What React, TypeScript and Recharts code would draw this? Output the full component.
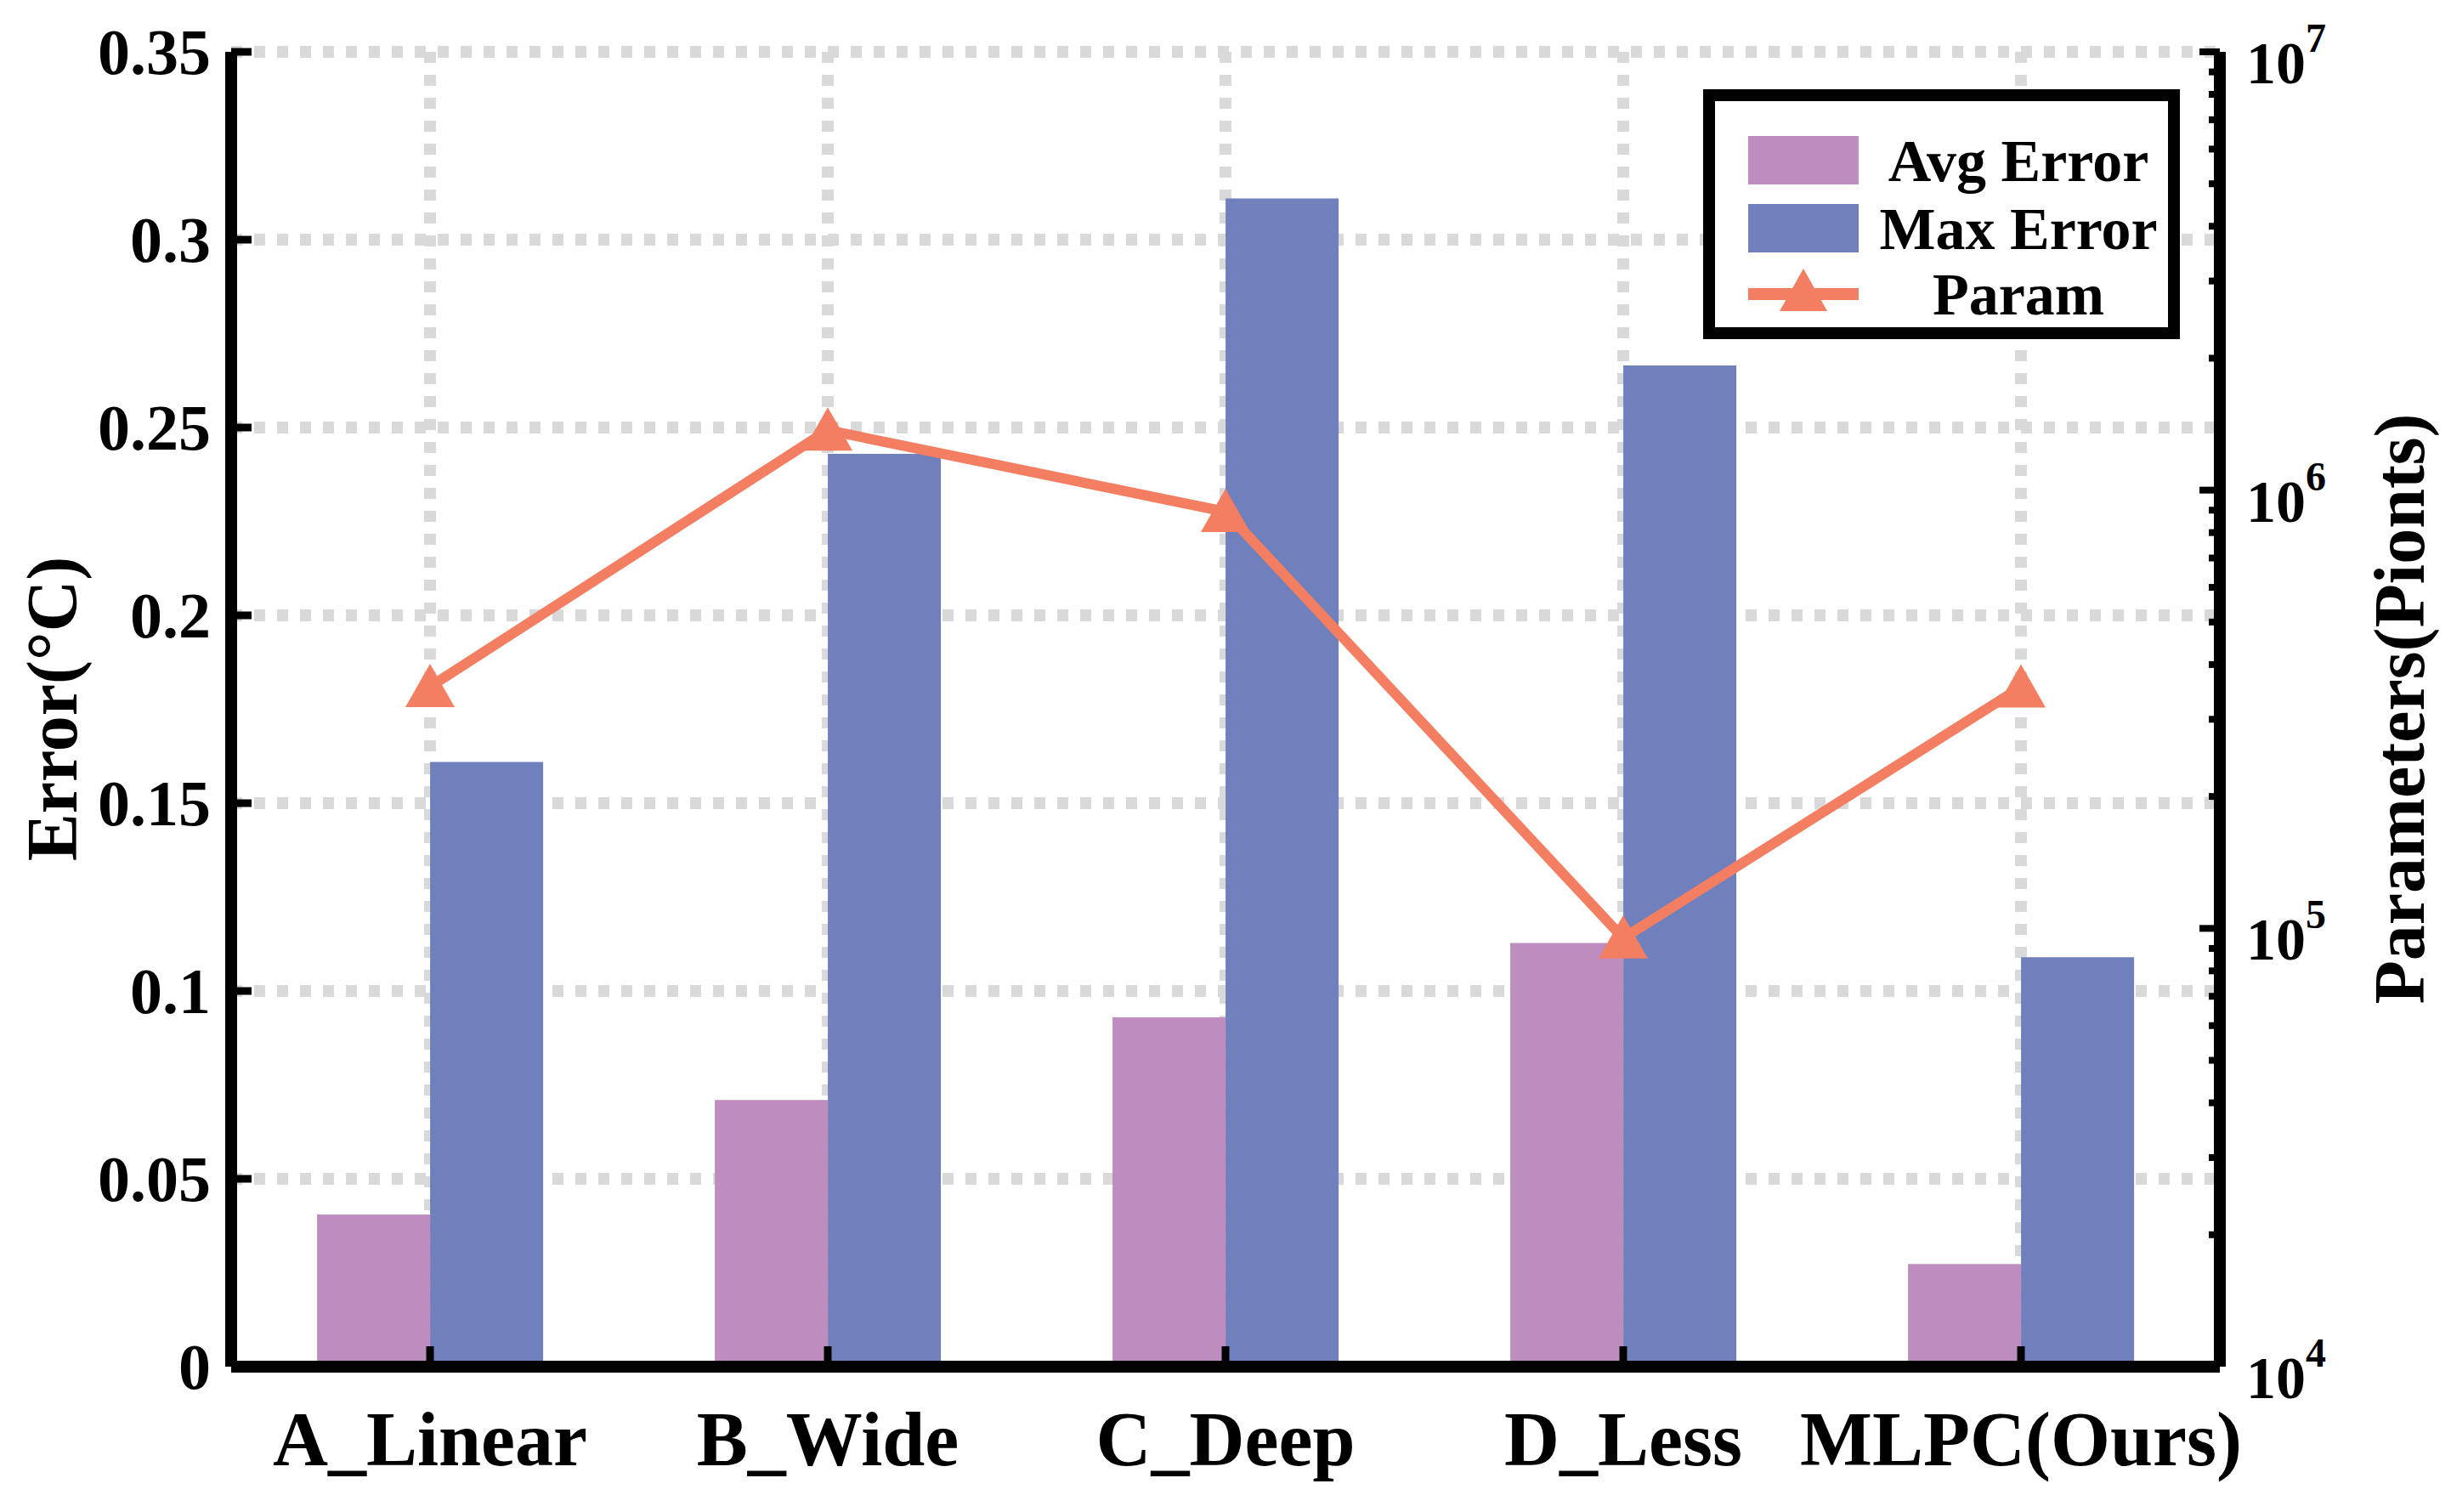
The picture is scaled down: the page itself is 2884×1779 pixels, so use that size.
import React from 'react';
import { ComposedChart, Bar, Line, XAxis, YAxis, CartesianGrid, Legend } from 'recharts';

const categories = ['A_Linear', 'B_Wide', 'C_Deep', 'D_Less', 'MLPC(Ours)'];
const avgError = [0.0405, 0.071, 0.093, 0.1128, 0.0273];
const maxError = [0.161, 0.243, 0.311, 0.2665, 0.109];
const params = [356000, 1370000, 893000, 95000, 355000];

const errorTicks = [0, 0.05, 0.1, 0.15, 0.2, 0.25, 0.3, 0.35];
const paramTicks = [
  10000, 20000, 30000, 40000, 50000, 60000, 70000, 80000, 90000,
  100000, 200000, 300000, 400000, 500000, 600000, 700000, 800000, 900000,
  1000000, 2000000, 3000000, 4000000, 5000000, 6000000, 7000000, 8000000, 9000000,
  10000000,
];
const paramMajor = [10000, 100000, 1000000, 10000000];

const data = categories.map((name, i) => ({
  name,
  avg: avgError[i],
  max: maxError[i],
  param: params[i],
}));

const W = 2884;
const H = 1779;
const PLOT_L = 272;
const PLOT_R = 2612;
const PLOT_T = 61;
const PLOT_B = 1608;
const FONT = '"Liberation Serif", "Times New Roman", serif';

const AVG_COLOR = '#BE8DBF';
const MAX_COLOR = '#6F80BD';
const PARAM_COLOR = '#F37E61';

const LeftTick = (props: any) => {
  const { y, payload } = props;
  return (
    <g>
      <line x1={PLOT_L} x2={PLOT_L + 24} y1={y} y2={y} stroke="#000" strokeWidth={9} />
      <text x={PLOT_L - 24} y={y} textAnchor="end" dominantBaseline="central"
        fontFamily={FONT} fontWeight="bold" fontSize={76} fill="#000">
        {String(payload.value)}
      </text>
    </g>
  );
};

const RightTick = (props: any) => {
  const { y, payload } = props;
  const v = payload.value;
  const major = paramMajor.includes(v);
  const len = major ? 24 : 13;
  return (
    <g>
      <line x1={PLOT_R} x2={PLOT_R - len} y1={y} y2={y} stroke="#000" strokeWidth={8} />
      {major && (
        <text x={PLOT_R + 31} y={y + 37} fontFamily={FONT} fontWeight="bold" fontSize={70} fill="#000">
          10
          <tspan fontSize={48} dy={-37}>{String(Math.round(Math.log10(v)))}</tspan>
        </text>
      )}
    </g>
  );
};

const BottomTick = (props: any) => {
  const { x, payload } = props;
  return (
    <g>
      <line x1={x} x2={x} y1={PLOT_B} y2={PLOT_B - 24} stroke="#000" strokeWidth={9} />
      <text x={x} y={1724} textAnchor="middle" fontFamily={FONT} fontWeight="bold" fontSize={90} fill="#000">
        {payload.value}
      </text>
    </g>
  );
};

const TopTick = (props: any) => {
  const { x } = props;
  return <line x1={x} x2={x} y1={PLOT_T} y2={PLOT_T + 24} stroke="#000" strokeWidth={9} />;
};

const Triangle = (props: any) => {
  const { cx, cy, index } = props;
  if (cx == null || cy == null) return null;
  return (
    <path key={`tri-${index}`} d={`M${cx},${cy - 27} L${cx + 29},${cy + 24} L${cx - 29},${cy + 24} Z`}
      fill={PARAM_COLOR} stroke="none" />
  );
};

const renderLegend = (props: any) => {
  const payload = props.payload || [];
  const rows = [84, 164, 241];
  return (
    <svg width={561} height={294} style={{ display: 'block' }}>
      <rect x={7} y={7} width={547} height={280} fill="#fff" stroke="#000" strokeWidth={14} />
      {payload.map((entry: any, i: number) => {
        const cy = rows[i];
        return (
          <g key={entry.value}>
            {entry.type === 'rect' ? (
              <rect x={53} y={cy - 29} width={130} height={57} fill={entry.color} />
            ) : (
              <g>
                <rect x={53} y={cy - 7} width={130} height={14} fill={entry.color} />
                <path d={`M118,${cy - 30} L146,${cy + 20} L90,${cy + 20} Z`} fill={entry.color} />
              </g>
            )}
            <text x={371} y={cy + 24} textAnchor="middle" fontFamily={FONT} fontWeight="bold"
              fontSize={70} fill="#000">
              {entry.value}
            </text>
          </g>
        );
      })}
    </svg>
  );
};

export default function App() {
  return (
    <div style={{ position: 'absolute', left: 0, top: 0, width: W, height: H, background: '#fff' }}>
      <ComposedChart width={W} height={H} data={data}
        margin={{ top: PLOT_T, right: 0, bottom: 0, left: 0 }}
        barGap={0} barCategoryGap="21.6%">
        <CartesianGrid yAxisId="left" stroke="#d9d9d9" strokeWidth={14} strokeDasharray="13 14" />
        <Bar yAxisId="left" dataKey="avg" name="Avg Error" fill={AVG_COLOR} isAnimationActive={false} />
        <Bar yAxisId="left" dataKey="max" name="Max Error" fill={MAX_COLOR} isAnimationActive={false} />
        <Line yAxisId="right" dataKey="param" name="Param" type="linear" stroke={PARAM_COLOR}
          strokeWidth={12} dot={Triangle} activeDot={false} legendType="triangle" isAnimationActive={false} />
        <XAxis dataKey="name" height={H - PLOT_B} tickLine={false} tickSize={0} tickMargin={0}
          axisLine={{ stroke: '#000', strokeWidth: 14 }} tick={BottomTick} interval={0} />
        <XAxis xAxisId="top" dataKey="name" orientation="top" height={0} tickLine={false} tickSize={0}
          axisLine={{ stroke: '#000', strokeWidth: 14 }} tick={TopTick} interval={0} />
        <YAxis yAxisId="left" width={PLOT_L} domain={[0, 0.35]} ticks={errorTicks} interval={0}
          tickLine={false} tickSize={0} axisLine={{ stroke: '#000', strokeWidth: 14 }} tick={LeftTick}
          label={() => (
            <text x={61} y={834} transform="rotate(-90, 61, 834)" textAnchor="middle" dominantBaseline="central"
              fontFamily={FONT} fontWeight="bold" fontSize={84} fill="#000">
              Error(°C)
            </text>
          )} />
        <YAxis yAxisId="right" orientation="right" width={W - PLOT_R} scale="log" domain={[10000, 10000000]}
          ticks={paramTicks} interval={0} allowDataOverflow tickLine={false} tickSize={0}
          axisLine={{ stroke: '#000', strokeWidth: 14 }} tick={RightTick}
          label={() => (
            <text x={2823} y={834} transform="rotate(-90, 2823, 834)" textAnchor="middle" dominantBaseline="central"
              fontFamily={FONT} fontWeight="bold" fontSize={84} fill="#000">
              Parameters(Pionts)
            </text>
          )} />
        <Legend layout="vertical" align="center" verticalAlign="middle" content={renderLegend}
          wrapperStyle={{ position: 'absolute', left: 2004, top: 105, width: 561, height: 294 }} />
      </ComposedChart>
    </div>
  );
}
